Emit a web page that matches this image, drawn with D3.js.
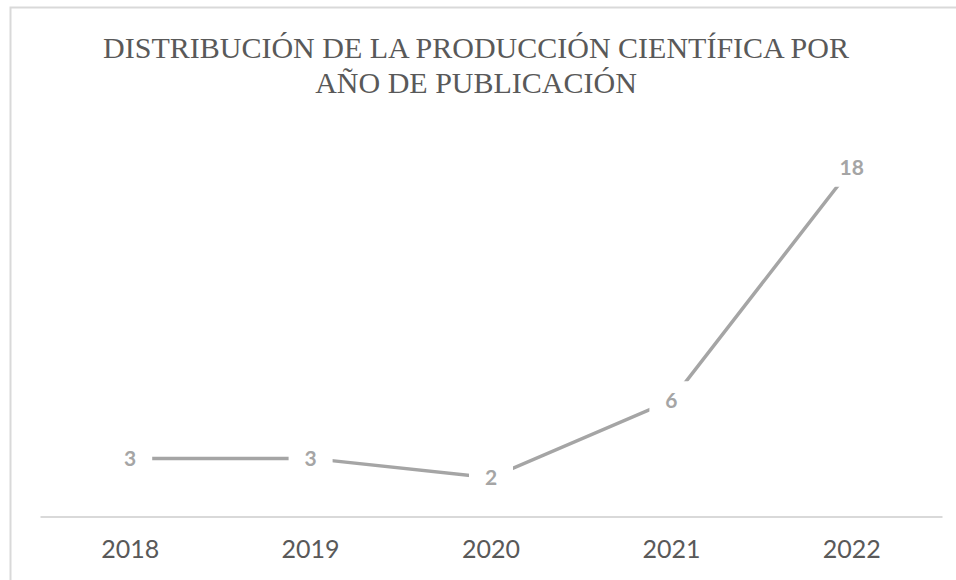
<!DOCTYPE html>
<html>
<head>
<meta charset="utf-8">
<script src="https://cdn.jsdelivr.net/npm/d3@7"></script>
<style>
  html, body { margin: 0; padding: 0; background: #fff; }
  svg { display: block; }
</style>
</head>
<body>
<svg id="chart" width="956" height="580"></svg>
<script>
const titleLines = ["DISTRIBUCIÓN DE LA PRODUCCIÓN CIENTÍFICA POR", "AÑO DE PUBLICACIÓN"];
const years = ["2018", "2019", "2020", "2021", "2022"];
const counts = [3, 3, 2, 6, 18];
const yDomain = [0, 20];

const W = 956, H = 580;
const svg = d3.select("#chart");

// chart border
svg.append("rect")
  .attr("x", 10.5).attr("y", 7.5)
  .attr("width", 1000).attr("height", 1000)
  .attr("fill", "#fff")
  .attr("stroke", "#d9d9d9").attr("stroke-width", 2);

// title
const title = svg.append("text")
  .attr("text-anchor", "middle")
  .attr("font-family", "'Liberation Serif', 'Times New Roman', serif")
  .attr("font-size", 30)
  .attr("fill", "#595959");
titleLines.forEach((t, i) => {
  title.append("tspan").attr("x", 476).attr("y", 58 + i * 35).text(t);
});

const plot = { left: 40, right: 942, top: 129, bottom: 516.5 };

const x = d3.scaleBand().domain(years).range([plot.left, plot.right]).padding(0);
const y = d3.scaleLinear().domain(yDomain).range([plot.bottom, plot.top]);

// x axis
const xAxis = svg.append("g")
  .attr("transform", `translate(0,${plot.bottom})`)
  .call(d3.axisBottom(x).tickSize(0).tickPadding(24));
xAxis.select(".domain").attr("stroke", "#d9d9d9").attr("stroke-width", 2);
xAxis.selectAll("text")
  .attr("font-family", "Lato, 'Open Sans', sans-serif")
  .attr("font-size", 25)
  .attr("fill", "#595959")
  .attr("dy", "0.71em");

const cx = d => x(d) + x.bandwidth() / 2;
const data = years.map((yr, i) => ({ yr, v: counts[i] }));

// line
svg.append("path")
  .datum(data)
  .attr("fill", "none")
  .attr("stroke", "#a5a5a5")
  .attr("stroke-width", 3.5)
  .attr("d", d3.line().x(d => cx(d.yr)).y(d => y(d.v)));

// labels with white boxes
const lab = svg.append("g").selectAll("g").data(data).join("g")
  .attr("transform", d => `translate(${cx(d.yr)},${y(d.v)})`);
lab.append("rect")
  .attr("x", d => -(String(d.v).length * 6 + 16))
  .attr("y", -19)
  .attr("width", d => 2 * (String(d.v).length * 6 + 16))
  .attr("height", 38)
  .attr("fill", "#fff");
lab.append("text")
  .attr("text-anchor", "middle")
  .attr("dy", "0.36em")
  .attr("font-family", "Lato, 'Open Sans', sans-serif")
  .attr("font-weight", "bold")
  .attr("font-size", 21)
  .attr("fill", "#a5a5a5")
  .text(d => d.v);
</script>
</body>
</html>
